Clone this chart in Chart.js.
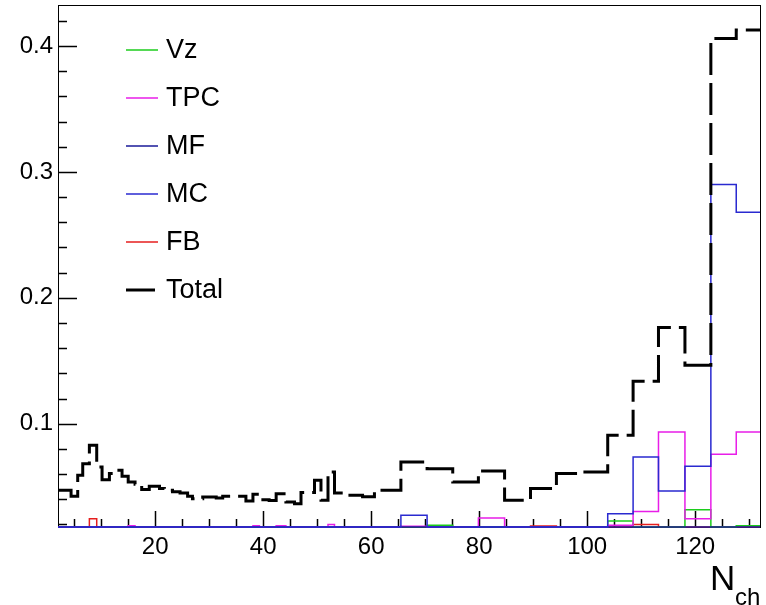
<!DOCTYPE html>
<html>
<head>
<meta charset="utf-8">
<script src="https://cdn.jsdelivr.net/npm/chart.js@4.4.1/dist/chart.umd.min.js"></script>
<style>
  html, body { margin: 0; padding: 0; background: #fff; }
  #wrap { width: 766px; height: 605px; }
</style>
</head>
<body>
<div id="wrap"><canvas id="nchChart" width="766" height="605"></canvas></div>
<script>
// bin edges (N_ch), shared by every histogram
const binEdges = [
  2, 4.42, 5.65, 6.58, 7.81, 9.17, 10.16, 11.52, 12.75, 13.86,
  15.0, 16.27, 17.5, 18.9, 20.8, 21.7, 23.2, 24.6, 26.0, 26.9,
  28.8, 31.3, 32.5, 36.8, 38.1, 39.3, 41.1, 42.4, 44.2, 45.8,
  47.0, 49.5, 50.7, 52.0, 53.2, 55.2, 58.4, 60.6, 65.5, 70.35,
  75.1, 79.85, 84.7, 89.5, 94.3, 99.2, 103.8, 108.5, 113.2, 118.1,
  122.9, 127.6, 132
];

const totalValues = [
  0.0471, 0.0424, 0.0591, 0.0683, 0.0829, 0.0657, 0.0556, 0.0604, 0.0630, 0.0583,
  0.0537, 0.0519, 0.0477, 0.0503, 0.0485, 0.0471, 0.0460, 0.0450, 0.0425, 0.0405,
  0.0418, 0.0410, 0.0424, 0.0387, 0.0440, 0.0397, 0.0390, 0.0445, 0.0378, 0.0365,
  0.0455, 0.0551, 0.0392, 0.0617, 0.0450, 0.0432, 0.0420, 0.0471, 0.0696, 0.0643,
  0.0537, 0.0625, 0.0392, 0.0485, 0.0604, 0.0617, 0.0909, 0.1338, 0.1765, 0.1465,
  0.4060, 0.4128
];

const vzValues = [
  0, 0, 0, 0, 0, 0, 0, 0, 0, 0,
  0, 0, 0, 0, 0, 0, 0, 0, 0, 0,
  0, 0, 0, 0, 0, 0, 0, 0, 0, 0,
  0, 0, 0, 0, 0, 0, 0, 0, 0, 0.0193,
  0, 0, 0, 0, 0, 0, 0.0227, 0, 0, 0.0318,
  0, 0.0190
];

const tpcValues = [
  0, 0, 0, 0, 0, 0, 0, 0, 0, 0,
  0.0190, 0, 0, 0, 0, 0, 0, 0, 0, 0,
  0, 0, 0, 0, 0.0190, 0, 0, 0.0190, 0, 0,
  0, 0, 0, 0.0199, 0, 0, 0, 0, 0.0186, 0,
  0, 0.0251, 0, 0, 0, 0, 0.0193, 0.0304, 0.0935, 0.0246,
  0.0757, 0.0935
];

const mfValues = [
  0, 0, 0, 0, 0, 0, 0, 0, 0, 0,
  0, 0, 0, 0, 0, 0, 0, 0, 0, 0,
  0, 0, 0, 0, 0, 0, 0, 0, 0, 0,
  0, 0, 0, 0, 0, 0, 0, 0, 0, 0,
  0, 0, 0, 0, 0, 0, 0, 0, 0, 0,
  0, 0
];

const mcValues = [
  0, 0, 0, 0, 0, 0, 0, 0, 0, 0,
  0, 0, 0, 0, 0, 0, 0, 0, 0, 0,
  0, 0, 0, 0, 0, 0, 0, 0, 0, 0,
  0, 0, 0, 0, 0, 0, 0, 0, 0.0273, 0,
  0, 0, 0, 0, 0, 0, 0.0286, 0.0736, 0.0466, 0.0662,
  0.2900, 0.2680
];

const fbValues = [
  0, 0, 0, 0, 0.0246, 0, 0, 0, 0, 0,
  0, 0, 0, 0, 0, 0, 0, 0, 0, 0,
  0, 0, 0, 0, 0, 0, 0, 0, 0, 0,
  0, 0, 0, 0, 0, 0, 0, 0, 0, 0,
  0, 0, 0, 0.0187, 0, 0, 0, 0.0199, 0, 0,
  0, 0
];

const seriesLabels = ["Vz", "TPC", "MF", "MC", "FB", "Total"];
const xTickValues = [20, 40, 60, 80, 100, 120];
const yTickValues = [0.1, 0.2, 0.3, 0.4];

const X_MIN = 2;
const X_MAX = 132;
const Y_MIN = 0.018;
const Y_MAX = 0.4326;
const FONT = "'Liberation Sans', Arial, sans-serif";

// histogram outline as a stepped line; values below the frame sit on it (like ROOT)
function histPoints(values) {
  const pts = values.map((v, i) => ({ x: binEdges[i], y: Math.max(v, Y_MIN) }));
  pts.push({ x: binEdges[binEdges.length - 1], y: Math.max(values[values.length - 1], Y_MIN) });
  return pts;
}

function histDataset(label, values, color, width, order) {
  return {
    label: label,
    data: histPoints(values),
    borderColor: color,
    backgroundColor: color,
    borderWidth: width,
    stepped: "before",
    pointRadius: 0,
    fill: false,
    clip: 3,
    order: order,
  };
}

// ROOT-like frame, inward ticks, legend and axis title
const rootStylePlugin = {
  id: "rootStyle",
  beforeDatasetsDraw(chart) {
    const { ctx, chartArea: a, scales } = chart;
    const xs = scales.x;
    const ys = scales.y;
    ctx.save();
    ctx.strokeStyle = "#000";
    ctx.lineWidth = 1;
    ctx.strokeRect(a.left + 0.5, a.top + 0.5, a.right - a.left, a.bottom - a.top);
    ctx.lineWidth = 1.5;
    ctx.beginPath();
    // y ticks: major 0.1, minor 0.02
    for (let k = 1; k <= 21; k++) {
      const v = k * 0.02;
      if (v < Y_MIN || v > Y_MAX) continue;
      const py = Math.round(ys.getPixelForValue(v)) + 0.5;
      const len = k % 5 === 0 ? 19 : 9;
      ctx.moveTo(a.left, py);
      ctx.lineTo(a.left + len, py);
    }
    // x ticks: major 20, minor 5
    for (let v = 5; v < X_MAX; v += 5) {
      if (v < X_MIN) continue;
      const px = Math.round(xs.getPixelForValue(v)) + 0.5;
      const len = v % 20 === 0 ? 16 : 8;
      ctx.moveTo(px, a.bottom);
      ctx.lineTo(px, a.bottom - len);
    }
    ctx.stroke();
    ctx.restore();
  },
  afterDraw(chart) {
    const { ctx } = chart;
    ctx.save();
    // legend
    const rowY = [50, 98, 146, 194, 242, 290];
    chart.data.datasets.forEach((ds, i) => {
      const y = rowY[i];
      ctx.strokeStyle = ds.borderColor;
      ctx.lineWidth = ds.label === "Total" ? 3 : 1.5;
      ctx.setLineDash([]);
      ctx.beginPath();
      ctx.moveTo(126, y);
      ctx.lineTo(ds.label === "Total" ? 155 : 158, y);
      ctx.stroke();
      ctx.fillStyle = "#000";
      ctx.font = "27px " + FONT;
      ctx.textBaseline = "middle";
      ctx.fillText(ds.label, 166, y + 1);
    });
    // x axis title N_ch
    ctx.textBaseline = "alphabetic";
    ctx.font = "35px " + FONT;
    ctx.fillText("N", 710, 590);
    ctx.font = "24px " + FONT;
    ctx.fillText("ch", 735, 605);
    ctx.restore();
  },
};

const ctx = document.getElementById("nchChart");
const nchChart = new Chart(ctx, {
  type: "line",
  data: {
    datasets: [
      histDataset(seriesLabels[0], vzValues, "#1ccc1c", 1.5, 5),
      histDataset(seriesLabels[1], tpcValues, "#e81ee8", 1.5, 4),
      histDataset(seriesLabels[2], mfValues, "#1a1a99", 1.5, 3),
      histDataset(seriesLabels[3], mcValues, "#2a2ad0", 1.5, 1),
      histDataset(seriesLabels[4], fbValues, "#e61e1e", 1.5, 6),
      Object.assign(histDataset(seriesLabels[5], totalValues, "#000000", 3, 0), {
        borderDash: [32, 8],
      }),
    ],
  },
  options: {
    responsive: false,
    animation: false,
    devicePixelRatio: 1,
    layout: { padding: { top: 5, right: 6, left: 0, bottom: 0 } },
    plugins: {
      legend: { display: false },
      tooltip: { enabled: false },
    },
    scales: {
      x: {
        type: "linear",
        min: X_MIN,
        max: X_MAX,
        grid: { display: false, drawTicks: false },
        border: { display: false },
        afterBuildTicks: (s) => {
          s.ticks = xTickValues.map((v) => ({ value: v }));
        },
        afterFit: (s) => {
          s.height = 78;
          s.paddingLeft = 0;
          s.paddingRight = 0;
        },
        ticks: {
          color: "#000",
          font: { family: FONT, size: 24 },
          padding: 6,
          maxRotation: 0,
          autoSkip: false,
        },
      },
      y: {
        type: "linear",
        min: Y_MIN,
        max: Y_MAX,
        grid: { display: false, drawTicks: false },
        border: { display: false },
        afterBuildTicks: (s) => {
          s.ticks = yTickValues.map((v) => ({ value: v }));
        },
        afterFit: (s) => {
          s.width = 58;
          s.paddingTop = 0;
          s.paddingBottom = 0;
        },
        ticks: {
          color: "#000",
          font: { family: FONT, size: 24 },
          padding: 5,
          callback: (v) => v.toFixed(1),
        },
      },
    },
  },
  plugins: [rootStylePlugin],
});
</script>
</body>
</html>
